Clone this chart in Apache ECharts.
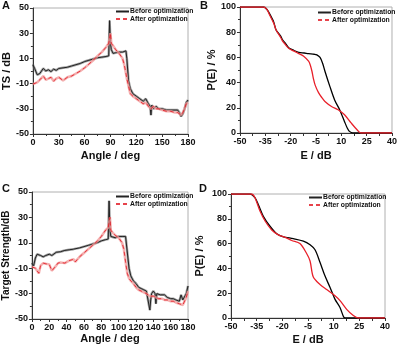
<!DOCTYPE html>
<html>
<head>
<meta charset="utf-8">
<script src="https://cdn.jsdelivr.net/npm/echarts@6.0.0/dist/echarts.min.js"></script>
<style>
  html, body { margin: 0; padding: 0; background: #fff; }
  #chart { width: 400px; height: 346px; }
</style>
</head>
<body>
<div id="chart"></div>
<script>
  // panel A: TS vs angle
  const aAngle = [0, 2, 5, 8, 12, 15, 18, 21, 24, 27, 30, 35, 40, 45, 50, 55, 60, 65, 70, 75, 80, 85, 88, 89, 90, 91, 93, 96, 100, 104, 106, 108, 109, 111, 113, 116, 120, 124, 128, 131, 134, 136, 137, 138, 140, 143, 146, 150, 155, 160, 165, 168, 170, 172, 174, 176, 178, 180];
  const aBefore = [5, 2, -3, -2, 2, 0, 1, -0.5, 1.5, 0.5, 2, 2.5, 3, 4, 5, 6, 7.5, 8.5, 9.5, 10.5, 11, 11.5, 12, 40, 22, 17, 14, 14.5, 15, 15, 15.5, 16, 10, -8, -14, -18, -20, -22, -24, -22, -26, -28, -35, -27, -30, -28, -30, -30, -31, -31, -31, -31, -33, -36, -34, -30, -25, -23];
  const aAfter = [-10.5, -12, -9, -7, -4, -7, -6, -5, -8, -6, -5, -7.5, -5, -4, -2, 0, 2.5, 5.5, 8.5, 12, 15, 19, 22, 23, 30, 22, 20, 17, 14, 10, 5, -2, -6, -12, -18, -20, -22, -24, -26, -25, -28, -27, -30, -29, -28, -30, -30, -31, -32, -32, -33, -33, -34, -35, -33, -30, -26, -25];

  // panel C: target strength vs angle
  const cAngle = [0, 2, 4, 6, 8, 10, 13, 16, 20, 23, 25, 28, 30, 33, 35, 38, 40, 43, 45, 48, 50, 55, 60, 65, 70, 75, 80, 85, 88, 89, 90, 91, 93, 96, 100, 104, 106, 108, 110, 112, 114, 117, 120, 123, 126, 129, 132, 134, 136, 137, 138, 140, 142, 143, 144, 146, 148, 150, 153, 156, 160, 163, 166, 170, 172, 174, 176, 178, 180];
  const cBefore = [-6, -8, -2, 1, 2.5, 0, -1, 0, 1, 0, 1, 2.5, 1, 3, 2.5, 4, 3, 4.5, 3.5, 5, 4.5, 6, 7, 8, 9, 10, 11.5, 12.5, 13, 43, 20, 15, 14, 14, 15, 15, 15, 15, 14, -10, -16, -20, -22, -25, -26, -27, -28, -29, -43, -35, -30, -28, -30, -38, -30, -29, -31, -32, -31, -33, -34, -34, -35, -36, -31, -35, -36, -30, -24];
  const cAfter = [-9, -8, -10, -12, -14, -8, -6, -6.5, -7, -12, -11, -8, -6, -5.5, -5, -6, -5.5, -4, -5, -3, -5, -1, 2, 5, 8, 11, 15, 20, 22, 23, 30, 20, 18, 16, 14, 10, 5, -5, -14, -18, -20, -22, -25, -27, -28, -29, -30, -31, -32, -33, -32, -32, -33, -33, -33, -34, -34, -34, -35, -35, -36, -36, -37, -38, -37, -39, -40, -33, -28];

  // panel B: P(E) vs E
  const bBeforeE = [-50, -36, -34, -32.6, -30, -28.7, -26, -24.8, -23, -21, -18, -15.2, -12, -9.4, -6, -4.5, -2.6, -1, 0.3, 3.2, 6.1, 9, 11.9, 13.5, 14.8, 16.8, 40];
  const bBeforeP = [100, 100, 98, 95, 88, 82, 77, 74, 71, 67.5, 65.5, 64, 63.5, 63, 62.5, 62, 60, 55, 49, 37, 26, 18.5, 9, 4, 1.3, 0, 0];
  const bAfterE = [-50, -36, -34, -32.6, -30, -28.7, -26, -24.8, -23, -21, -18, -15.2, -12.3, -9.4, -8.4, -7.4, -6.5, -5.5, -3.5, -1.5, 0.3, 4.2, 8.1, 11.9, 15.8, 19.7, 21.6, 40];
  const bAfterP = [100, 100, 98, 94, 87, 82, 76, 73, 70, 67, 65, 63, 61, 57, 54, 49, 43, 38, 32, 28, 25, 21, 18.5, 14.5, 8, 2, 0, 0];

  // panel D
  const dBeforeE = [-50, -38.9, -36, -34, -31.1, -27.2, -23.3, -19.4, -13.6, -7.7, -3.8, -0.9, 2, 4.9, 7.9, 10.8, 13.7, 16, 17.6, 40];
  const dBeforeP = [100, 100, 97, 91.4, 82, 74, 68, 65.5, 64, 62, 59, 55, 45, 34, 24.6, 15, 8.5, 0.5, 0, 0];
  const dAfterE = [-50, -38, -36, -33, -30, -26.2, -22.3, -18.4, -14.5, -9.7, -5.8, -3.8, -1.9, 2, 5.9, 10.8, 13.7, 17.6, 21.5, 24.4, 40];
  const dAfterP = [100, 100, 97, 86, 78, 71, 67, 65, 62.5, 60, 52, 46, 33, 27, 23, 18, 14, 7, 2, 0, 0];

  const eTicks = [-50, -35, -20, -5, 10, 25, 40];
  const eTickMarks = [-50, -42.5, -35, -27.5, -20, -12.5, -5, 2.5, 10, 17.5, 25, 32.5, 40];
  const legendNames = ['Before optimization', 'After optimization'];

  const FONT = 'Liberation Sans, Arial, sans-serif';

  function zip(xs, ys) {
    return xs.map((x, i) => [x, ys[i]]);
  }

  function baseAxis(extra) {
    return Object.assign({
      axisLine: { show: true, onZero: false, lineStyle: { color: '#333', width: 1 } },
      axisTick: { show: true, inside: false, length: 3, lineStyle: { color: '#333' } },
      minorTick: { show: true, splitNumber: 2, length: 2, lineStyle: { color: '#333' } },
      splitLine: { show: false },
      axisLabel: { color: '#111', fontSize: 9, fontWeight: 'bold', fontFamily: FONT, margin: 4 },
      nameLocation: 'middle',
      nameTextStyle: { color: '#111', fontSize: 11, fontWeight: 'bold', fontFamily: FONT }
    }, extra);
  }

  function angleX(idx, interval, gap) {
    return baseAxis({ type: 'value', gridIndex: idx, min: 0, max: 180, interval: interval, name: 'Angle / deg', nameGap: gap });
  }
  function tsY(idx, name, gap, size) {
    return baseAxis({
      type: 'value', gridIndex: idx, min: -50, max: 50, interval: 20, name: name, nameGap: gap,
      nameTextStyle: { color: '#111', fontSize: size, fontWeight: 'bold', fontFamily: FONT }
    });
  }
  function eX(idx, gap) {
    return baseAxis({
      type: 'value', gridIndex: idx, min: -50, max: 40, name: 'E / dB', nameGap: gap,
      axisLabel: { color: '#111', fontSize: 9, fontWeight: 'bold', fontFamily: FONT, margin: 4, customValues: eTicks },
      axisTick: { show: true, length: 3, lineStyle: { color: '#333' }, customValues: eTickMarks },
      minorTick: { show: false }
    });
  }
  function pY(idx, gap) {
    return baseAxis({ type: 'value', gridIndex: idx, min: 0, max: 100, interval: 20, name: 'P(E) / %', nameGap: gap });
  }

  // thick pale band + thin core, like the original plot
  function tsSeries(idx, angles, before, after) {
    return [
      { name: 'halo-before', type: 'line', xAxisIndex: idx, yAxisIndex: idx, symbol: 'none', silent: true,
        lineStyle: { color: 'rgba(100,100,100,0.6)', width: 2.5 }, data: zip(angles, before) },
      { name: legendNames[0], type: 'line', xAxisIndex: idx, yAxisIndex: idx, symbol: 'none',
        itemStyle: { color: '#222' },
        lineStyle: { color: '#222', width: 1 }, data: zip(angles, before) },
      { name: 'halo-after', type: 'line', xAxisIndex: idx, yAxisIndex: idx, symbol: 'none', silent: true,
        lineStyle: { color: 'rgba(240,150,150,0.75)', width: 2.5 }, data: zip(angles, after) },
      { name: legendNames[1], type: 'line', xAxisIndex: idx, yAxisIndex: idx, symbol: 'none',
        itemStyle: { color: '#e1141e' },
        lineStyle: { color: 'rgba(225,20,30,0.8)', width: 1, type: [4, 3] }, data: zip(angles, after) }
    ];
  }
  function peSeries(idx, bE, bP, aE, aP) {
    return [
      { name: legendNames[0], type: 'line', xAxisIndex: idx, yAxisIndex: idx, symbol: 'none', smooth: 0.3,
        itemStyle: { color: '#000' },
        lineStyle: { color: '#000', width: 1.3 }, data: zip(bE, bP) },
      { name: legendNames[1], type: 'line', xAxisIndex: idx, yAxisIndex: idx, symbol: 'none', smooth: 0.3,
        itemStyle: { color: '#e8202a' },
        lineStyle: { color: '#e8202a', width: 1.3 }, data: zip(aE, aP) }
    ];
  }
  function legendAt(left, top) {
    return {
      data: legendNames, orient: 'vertical', left: left, top: top, padding: 0,
      itemWidth: 13, itemHeight: 7, itemGap: 0.5,
      itemStyle: { opacity: 0 },
      textStyle: { color: '#111', fontSize: 6.8, fontWeight: 'bold', fontFamily: FONT, padding: [0, 0, 0, -4] }
    };
  }
  function letter(text, x, y) {
    return { type: 'text', left: x, top: y, style: { text: text, fill: '#111', font: 'bold 11px ' + FONT } };
  }

  const gridStyle = { show: true, borderColor: '#b0b0b0', borderWidth: 1, backgroundColor: 'transparent' };

  const myChart = echarts.init(document.getElementById('chart'));
  const options = {
    animation: false,
    backgroundColor: '#fff',
    grid: [
      Object.assign({ left: 30, top: 8, width: 158, height: 126 }, gridStyle),
      Object.assign({ left: 240, top: 7, width: 154, height: 126 }, gridStyle),
      Object.assign({ left: 30, top: 192, width: 158, height: 127 }, gridStyle),
      Object.assign({ left: 231, top: 194, width: 154, height: 125 }, gridStyle)
    ],
    xAxis: [angleX(0, 30, 16), eX(1, 17), angleX(2, 20, 14), eX(3, 16)],
    yAxis: [tsY(0, 'TS / dB', 17, 11), pY(1, 23), tsY(2, 'Target Strength/dB', 15, 10), pY(3, 26)],
    legend: [legendAt(115, 8), legendAt(317, 9), legendAt(115, 193), legendAt(308, 194)],
    series: [].concat(
      tsSeries(0, aAngle, aBefore, aAfter),
      peSeries(1, bBeforeE, bBeforeP, bAfterE, bAfterP),
      tsSeries(2, cAngle, cBefore, cAfter),
      peSeries(3, dBeforeE, dBeforeP, dAfterE, dAfterP)
    ),
    graphic: [letter('A', 2, 0), letter('B', 200, 0), letter('C', 2, 183), letter('D', 199, 183)]
  };
  myChart.setOption(options);
</script>
</body>
</html>
